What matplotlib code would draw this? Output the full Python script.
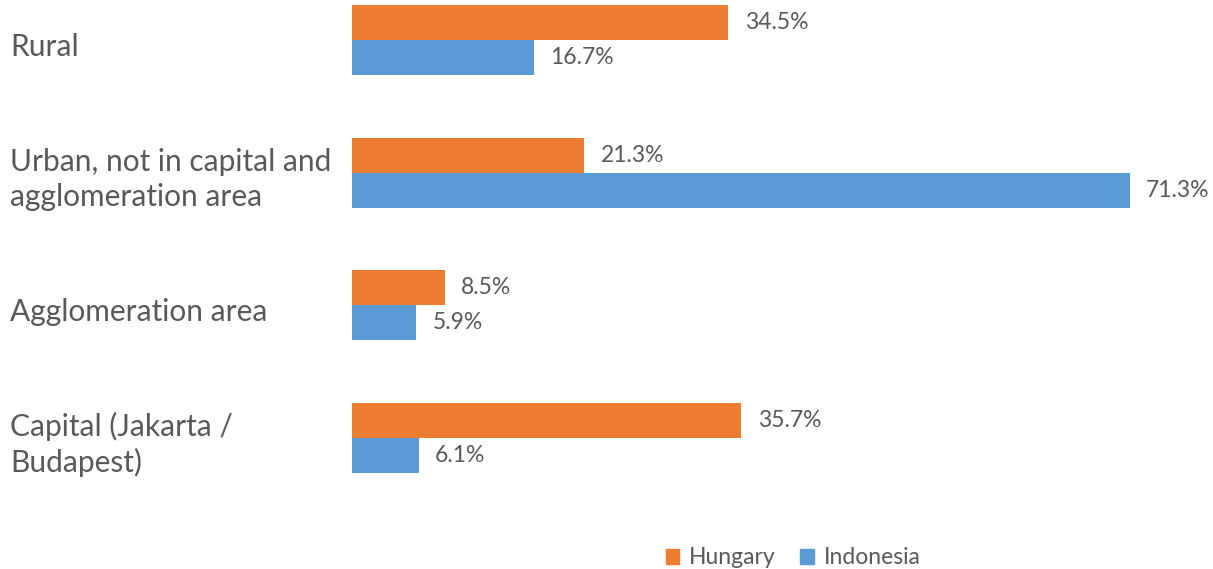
import numpy as np
import matplotlib.pyplot as plt
from matplotlib.patches import Patch

categories = ["Rural", "Urban, not in capital and\nagglomeration area",
              "Agglomeration area", "Capital (Jakarta /\nBudapest)"]
hungary = [34.5, 21.3, 8.5, 35.7]
indonesia = [16.7, 71.3, 5.9, 6.1]
series_names = ["Hungary", "Indonesia"]
colors = ["#ED7D31", "#5B9BD5"]
text_color = "#595959"

plt.rcParams['font.family'] = ['Lato', 'DejaVu Sans']

W, H = 1213, 569
fig = plt.figure(figsize=(W / 100, H / 100), dpi=100)
left = 352 / W
ax = fig.add_axes([left, 0, 1 - left, 1])

y = np.arange(len(categories))
bh = 0.264
ax.barh(y - bh / 2, hungary, height=bh, color=colors[0])
ax.barh(y + bh / 2, indonesia, height=bh, color=colors[1])

px_per = 10.91
ax.set_xlim(0, (W - 352) / px_per)
ax.set_ylim(3.986, -0.301)

for i, (h, d) in enumerate(zip(hungary, indonesia)):
    ax.text(h + 1.5, i - bh / 2, f"{h}%", va="center", ha="left",
            fontsize=16.5, color=text_color)
    ax.text(d + 1.5, i + bh / 2, f"{d}%", va="center", ha="left",
            fontsize=16.5, color=text_color)

for i, c in enumerate(categories):
    ax.text(-342 / px_per, i + 0.05, c, va="center", ha="left",
            fontsize=21.5, color=text_color, linespacing=1.3)

ax.axis("off")

handles = [Patch(color=c) for c in colors]
fig.legend(handles, series_names, loc="center", bbox_to_anchor=(793 / W, 1 - 558 / H),
           ncol=2, frameon=False, fontsize=16.5, labelcolor=text_color,
           handlelength=0.6, handleheight=0.6, handletextpad=0.4, columnspacing=1.1)

fig.savefig("out.png", dpi=100)
